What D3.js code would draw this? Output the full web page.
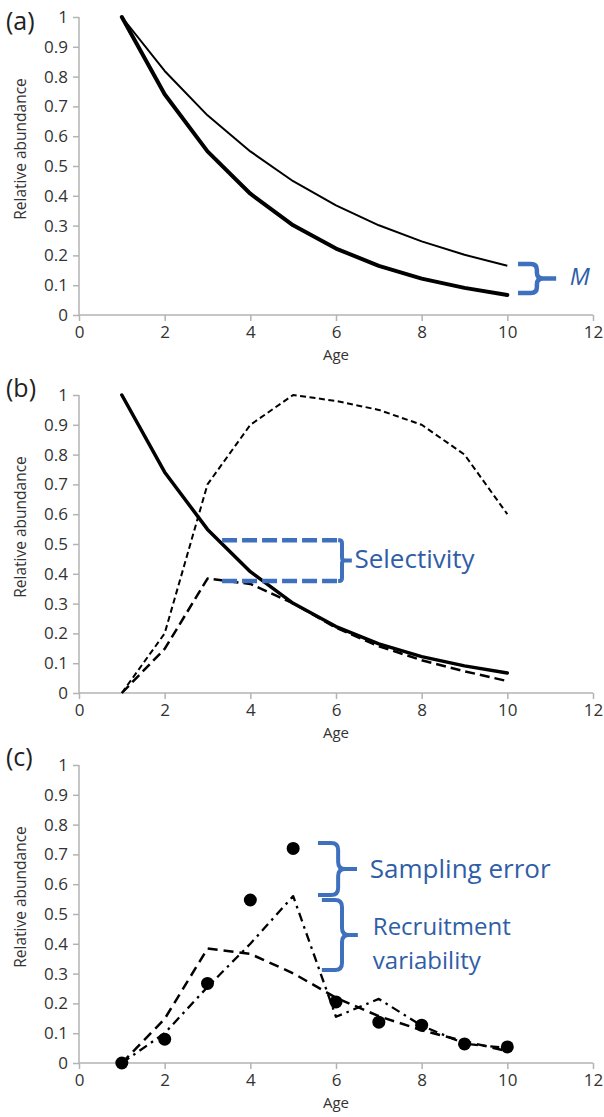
<!DOCTYPE html>
<html>
<head>
<meta charset="utf-8">
<script src="https://cdn.jsdelivr.net/npm/d3@7"></script>
<style>
  html, body { margin: 0; padding: 0; background: #fff; }
  svg { display: block; }
</style>
</head>
<body>
<svg id="chart" width="604" height="1117"></svg>
<script>
// ---------------- data ----------------
const ages = [1, 2, 3, 4, 5, 6, 7, 8, 9, 10];
const xTicks = [0, 2, 4, 6, 8, 10, 12];
const yTicks = [0, 0.1, 0.2, 0.3, 0.4, 0.5, 0.6, 0.7, 0.8, 0.9, 1];
const yTickLabels = ["0", "0.1", "0.2", "0.3", "0.4", "0.5", "0.6", "0.7", "0.8", "0.9", "1"];
const panelLabels = ["(a)", "(b)", "(c)"];
const xTitle = "Age";
const yTitle = "Relative abundance";

// (a) survival with low and high natural mortality
const survivalLowM  = [1, 0.819, 0.670, 0.549, 0.449, 0.368, 0.301, 0.247, 0.202, 0.165];
const survivalHighM = [1, 0.741, 0.549, 0.407, 0.301, 0.223, 0.165, 0.122, 0.091, 0.067];
// (b) selectivity and selected abundance
const selectivity        = [0, 0.20, 0.70, 0.90, 1.00, 0.98, 0.95, 0.90, 0.80, 0.60];
const selectedAbundance  = [0, 0.148, 0.384, 0.366, 0.301, 0.219, 0.157, 0.110, 0.073, 0.040];
// (c) recruitment variability and sampled values
const recruitmentVar     = [0, 0.10, 0.255, 0.40, 0.56, 0.155, 0.215, 0.125, 0.065, 0.05];
const sampledAbundance   = [0, 0.08, 0.267, 0.547, 0.72, 0.205, 0.137, 0.127, 0.064, 0.054];

// annotation anchors (data units)
const annoM = { x0: 10.25, xv: 10.69, xs: 11.14, yTop: 0.171, yBot: 0.074, text: "M", tx: 11.46, ty: 0.10 };
const annoSel = { x0: 3.34, x1: 6.05, xv: 6.14, xs: 6.37, yTop: 0.513, yBot: 0.376, text: "Selectivity", tx: 6.43, ty: 0.42 };
const annoSamp = { x0: 5.58, xv: 6.05, xs: 6.49, yTop: 0.738, yBot: 0.564, text: "Sampling error", tx: 6.79, ty: 0.62 };
const annoRec = { x0: 5.67, xv: 6.14, xs: 6.51, yTop: 0.547, yBot: 0.312, text: ["Recruitment", "variability"], tx: 6.86, ty: 0.428 };

// ---------------- layout ----------------
const svg = d3.select("#chart");
const font = "'Open Sans', 'DejaVu Sans', sans-serif";
const axisColor = "#b3b3b3";
const textColor = "#333";
const blueLine = "#3f70bd";
const blueText = "#2f5ea6";
const annoSize = "26px";

const x = d3.scaleLinear().domain([0, 12]).range([79, 593]);
const panels = [
  { top: 17, bottom: 315, label: panelLabels[0], labelY: 30 },
  { top: 395, bottom: 693, label: panelLabels[1], labelY: 397 },
  { top: 765, bottom: 1063, label: panelLabels[2], labelY: 766 }
];
panels.forEach(p => { p.y = d3.scaleLinear().domain([0, 1]).range([p.bottom, p.top]); });

function drawAxes(p) {
  const g = svg.append("g");
  const yAxis = d3.axisLeft(p.y).tickValues(yTicks).tickFormat((d, i) => yTickLabels[i]).tickSize(6).tickPadding(5);
  const ga = g.append("g").attr("transform", `translate(${x(0)},0)`).call(yAxis);
  const xAxis = d3.axisBottom(x).tickValues(xTicks).tickFormat(d3.format("d")).tickSize(6).tickPadding(5);
  const gb = g.append("g").attr("transform", `translate(0,${p.y(0)})`).call(xAxis);
  [ga, gb].forEach(a => {
    a.select(".domain").attr("stroke", axisColor).attr("stroke-width", 1.5);
    a.selectAll(".tick line").attr("stroke", axisColor).attr("stroke-width", 1.5);
    a.selectAll(".tick text").attr("fill", textColor).style("font-family", font).style("font-size", "17px");
  });
  ga.select(".domain").attr("d", `M0,${p.y(1)}V${p.y(0)}`);
  gb.select(".domain").attr("d", `M${x(0)},0H${x(12)}`);

  svg.append("text")
    .attr("transform", `translate(26,${p.top + 132}) rotate(-90)`)
    .attr("text-anchor", "middle")
    .style("font-family", font).style("font-size", "15.5px").attr("fill", textColor)
    .text(yTitle);
  svg.append("text")
    .attr("x", (x(0) + x(12)) / 2).attr("y", p.bottom + 45)
    .attr("text-anchor", "middle")
    .style("font-family", font).style("font-size", "15px").attr("fill", textColor)
    .text(xTitle);
  svg.append("text")
    .attr("x", 6).attr("y", p.labelY)
    .style("font-family", font).style("font-size", "25px").attr("fill", "#222")
    .text(p.label);
}
panels.forEach(drawAxes);

function drawLine(p, values, opts) {
  const line = d3.line().x((d, i) => x(ages[i])).y(d => p.y(d));
  svg.append("path")
    .datum(values)
    .attr("d", line)
    .attr("fill", "none")
    .attr("stroke", "#000")
    .attr("stroke-width", opts.width)
    .attr("stroke-dasharray", opts.dash || null)
    .attr("stroke-linejoin", "round")
    .attr("stroke-linecap", opts.cap || "butt");
}

function bracket(p, a, r) {
  const X0 = x(a.x0), XV = x(a.xv), XS = x(a.xs);
  const YT = p.y(a.yTop), YB = p.y(a.yBot), YM = (YT + YB) / 2;
  return `M${X0},${YT}H${XV - r}Q${XV},${YT} ${XV},${YT + r}V${YM - r}Q${XV},${YM} ${XV + r},${YM}H${XS}` +
         `M${XV + r},${YM}Q${XV},${YM} ${XV},${YM + r}V${YB - r}Q${XV},${YB} ${XV - r},${YB}H${X0}`;
}

// ---------------- panel (a) ----------------
const pa = panels[0];
drawLine(pa, survivalLowM, { width: 2 });
drawLine(pa, survivalHighM, { width: 4, cap: "round" });
svg.append("path").attr("d", bracket(pa, annoM, 6))
  .attr("fill", "none").attr("stroke", blueLine).attr("stroke-width", 4.5);
svg.append("text").attr("x", x(annoM.tx)).attr("y", pa.y(annoM.ty))
  .style("font-family", font).style("font-size", "24px").style("font-style", "italic")
  .attr("fill", blueText).text(annoM.text);

// ---------------- panel (b) ----------------
const pb = panels[1];
drawLine(pb, selectivity, { width: 2, dash: "6,3.5" });
drawLine(pb, selectedAbundance, { width: 2.5, dash: "10,5" });
drawLine(pb, survivalHighM, { width: 3.5, cap: "round" });
[annoSel.yTop, annoSel.yBot].forEach(v => {
  svg.append("line")
    .attr("x1", x(annoSel.x0)).attr("x2", x(annoSel.x1))
    .attr("y1", pb.y(v)).attr("y2", pb.y(v))
    .attr("stroke", blueLine).attr("stroke-width", 4.5).attr("stroke-dasharray", "15,5");
});
svg.append("path").attr("d", bracket(pb, { x0: annoSel.x1, xv: annoSel.xv, xs: annoSel.xs, yTop: annoSel.yTop, yBot: annoSel.yBot }, 3))
  .attr("fill", "none").attr("stroke", blueLine).attr("stroke-width", 4);
svg.append("text").attr("x", x(annoSel.tx)).attr("y", pb.y(annoSel.ty))
  .style("font-family", font).style("font-size", annoSize)
  .attr("fill", blueText).text(annoSel.text);

// ---------------- panel (c) ----------------
const pc = panels[2];
drawLine(pc, selectedAbundance, { width: 2.5, dash: "10,6" });
drawLine(pc, recruitmentVar, { width: 2.3, dash: "9,5,2.5,5" });
svg.append("g").selectAll("circle")
  .data(sampledAbundance)
  .join("circle")
  .attr("cx", (d, i) => x(ages[i]))
  .attr("cy", d => pc.y(d))
  .attr("r", 6.5)
  .attr("fill", "#000");

svg.append("path").attr("d", bracket(pc, annoSamp, 7))
  .attr("fill", "none").attr("stroke", blueLine).attr("stroke-width", 4);
svg.append("text").attr("x", x(annoSamp.tx)).attr("y", pc.y(annoSamp.ty))
  .style("font-family", font).style("font-size", annoSize)
  .attr("fill", blueText).text(annoSamp.text);
svg.append("path").attr("d", bracket(pc, annoRec, 7))
  .attr("fill", "none").attr("stroke", blueLine).attr("stroke-width", 4);
const recText = svg.append("text")
  .attr("x", x(annoRec.tx)).attr("y", pc.y(annoRec.ty))
  .style("font-family", font).style("font-size", "24px")
  .attr("fill", blueText);
annoRec.text.forEach((t, i) => {
  recText.append("tspan").attr("x", x(annoRec.tx)).attr("dy", i === 0 ? 0 : "1.4em").text(t);
});
</script>
</body>
</html>
